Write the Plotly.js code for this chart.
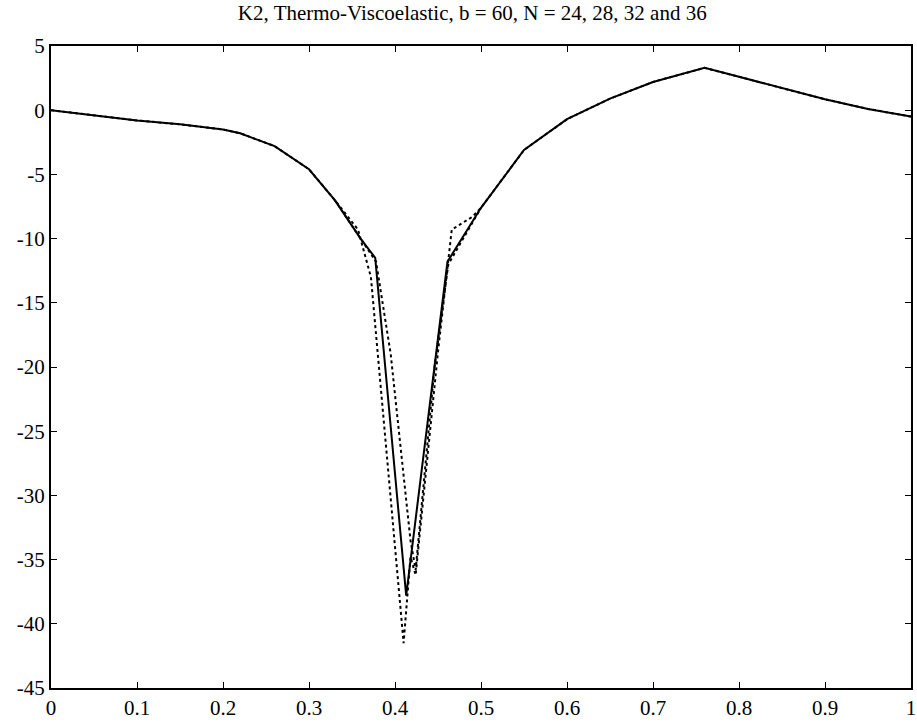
<!DOCTYPE html>
<html>
<head>
<meta charset="utf-8">
<script src="https://cdn.plot.ly/plotly-3.0.1.min.js"></script>
<style>html,body{margin:0;padding:0;background:#fff;}</style>
</head>
<body>
<div id="chart" style="width:917px;height:727px;"></div>
<script>
// Solid curve
const xSolid = [0, 0.05, 0.1, 0.15, 0.2, 0.22, 0.26, 0.3, 0.33, 0.36, 0.377, 0.413, 0.461, 0.5, 0.55, 0.6, 0.65, 0.7, 0.76, 0.8, 0.85, 0.9, 0.95, 1.0];
const ySolid = [0, -0.4, -0.8, -1.1, -1.5, -1.8, -2.8, -4.6, -7.0, -10.0, -11.5, -37.8, -11.8, -7.6, -3.1, -0.7, 0.9, 2.2, 3.3, 2.6, 1.7, 0.85, 0.1, -0.5];
// Dotted curve (deepest)
const xDot1 = [0, 0.05, 0.1, 0.15, 0.2, 0.22, 0.26, 0.3, 0.33, 0.357, 0.372, 0.41, 0.418, 0.424, 0.45, 0.466, 0.49, 0.5, 0.55, 0.6, 0.65, 0.7, 0.76, 0.8, 0.85, 0.9, 0.95, 1.0];
const yDot1 = [0, -0.4, -0.8, -1.1, -1.5, -1.8, -2.8, -4.6, -7.0, -9.3, -13.0, -41.5, -34.8, -36.2, -18.8, -9.3, -8.3, -7.6, -3.1, -0.7, 0.9, 2.2, 3.3, 2.6, 1.7, 0.85, 0.1, -0.5];
// Dotted curve (second)
const xDot2 = [0.33, 0.36, 0.378, 0.395, 0.418, 0.424, 0.446, 0.462, 0.5];
const yDot2 = [-7.0, -10.0, -11.8, -19.0, -33.5, -35.8, -20.0, -12.0, -7.6];

const xTickVals = [0, 0.1, 0.2, 0.3, 0.4, 0.5, 0.6, 0.7, 0.8, 0.9, 1];
const xTickText = ["0", "0.1", "0.2", "0.3", "0.4", "0.5", "0.6", "0.7", "0.8", "0.9", "1"];
const yTickVals = [5, 0, -5, -10, -15, -20, -25, -30, -35, -40, -45];
const yTickText = ["5", "0", "-5", "-10", "-15", "-20", "-25", "-30", "-35", "-40", "-45"];

const traces = [
  {x: xSolid, y: ySolid, mode: 'lines', line: {color: '#000', width: 2}, hoverinfo: 'skip'},
  {x: xDot1, y: yDot1, mode: 'lines', line: {color: '#000', width: 2, dash: 'dot'}, hoverinfo: 'skip'},
  {x: xDot2, y: yDot2, mode: 'lines', line: {color: '#000', width: 2, dash: 'dot'}, hoverinfo: 'skip'}
];

const font = {family: '"Liberation Serif", "Times New Roman", serif', size: 21, color: '#000'};

const layout = {
  width: 917, height: 727,
  margin: {l: 51, r: 6, t: 46, b: 39},
  paper_bgcolor: '#fff', plot_bgcolor: '#fff',
  showlegend: false,
  title: {text: 'K2, Thermo-Viscoelastic, b = 60, N = 24, 28, 32 and 36', font: {family: font.family, size: 21, color: '#000'}, x: 0.515, xanchor: 'center', y: 0.993, yanchor: 'top'},
  xaxis: {
    range: [0, 1], tickvals: xTickVals, ticktext: xTickText,
    showgrid: false, zeroline: false, showline: true, linecolor: '#000', linewidth: 2,
    mirror: 'ticks', ticks: 'inside', ticklen: 6, tickcolor: '#000', tickwidth: 1,
    tickfont: font
  },
  yaxis: {
    range: [-45, 5], tickvals: yTickVals, ticktext: yTickText,
    showgrid: false, zeroline: false, showline: true, linecolor: '#000', linewidth: 2,
    mirror: 'ticks', ticks: 'inside', ticklen: 6, tickcolor: '#000', tickwidth: 1,
    tickfont: font
  }
};

Plotly.newPlot('chart', traces, layout, {staticPlot: true, displayModeBar: false});
</script>
</body>
</html>
